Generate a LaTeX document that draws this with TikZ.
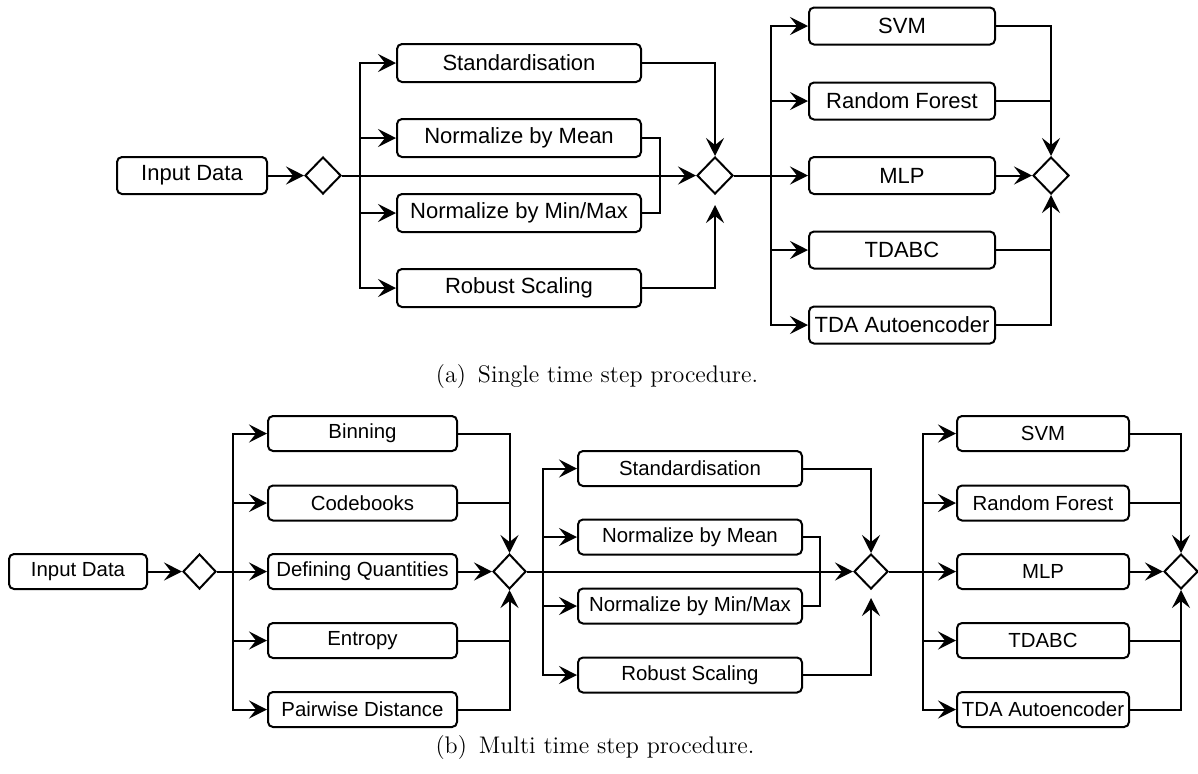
\documentclass[tikz,border=0pt]{standalone}
\usepackage{fontspec}
\newfontfamily\boxfont{Liberation Sans}
\usepackage{tikz}
\usetikzlibrary{arrows.meta, shapes.geometric}

\tikzset{
  stage/.style={draw, rounded corners=2.5pt, inner sep=0pt},
  gate/.style={draw, diamond, inner sep=0pt, minimum width=18pt, minimum height=18.5pt},
  flow/.style={-{Stealth[length=9pt,width=9pt,inset=3.5pt]}},
  partA/.style={font=\boxfont\fontsize{11}{13}\selectfont},
  partB/.style={font=\boxfont\fontsize{10.2}{12}\selectfont},
}

\begin{document}
\begin{tikzpicture}[x=0.5pt, y=-0.5pt, line width=1pt]
  \useasboundingbox (0,0) rectangle (1198,773);

  % (a) single time step
  \node[stage, partA, minimum width=75pt, minimum height=18.5pt] (inA) at (192,175.5) {Input Data};
  \node[gate] (gA1) at (323,175.5) {};
  \coordinate (fA1) at (360,175.5);
  \node[stage, partA, minimum width=122pt, minimum height=19pt] (stdA) at (519,63) {Standardisation};
  \node[stage, partA, minimum width=122pt, minimum height=19pt] (meanA) at (519,138) {Normalize by Mean};
  \node[stage, partA, minimum width=122pt, minimum height=19pt] (mmA) at (519,213) {Normalize by Min/Max};
  \node[stage, partA, minimum width=122pt, minimum height=19pt] (robA) at (519,288) {Robust Scaling};
  \node[gate] (gA2) at (715,175.5) {};
  \coordinate (fA2) at (771,175.5);
  \node[stage, partA, minimum width=93pt, minimum height=18.5pt] (svmA) at (902,26) {SVM};
  \node[stage, partA, minimum width=93pt, minimum height=18.5pt] (rfA) at (902,101) {Random Forest};
  \node[stage, partA, minimum width=93pt, minimum height=18.5pt] (mlpA) at (902,175.5) {MLP};
  \node[stage, partA, minimum width=93pt, minimum height=18.5pt] (tdabcA) at (902,250) {TDABC};
  \node[stage, partA, minimum width=93pt, minimum height=18.5pt] (aeA) at (902,325) {TDA Autoencoder};
  \node[gate] (gA3) at (1051,175.5) {};

  \draw[flow] (inA) -- (gA1);
  \draw[flow] (gA1) -- (gA2);
  \draw[flow] (fA1) |- (stdA.west);
  \draw[flow] (fA1) |- (meanA.west);
  \draw[flow] (fA1) |- (mmA.west);
  \draw[flow] (fA1) |- (robA.west);
  \draw[flow] (stdA.east) -| (gA2.north);
  \draw (meanA.east) -- ++(18,0) |- (mmA.east);
  \draw[flow, shorten >=5pt] (robA.east) -| (gA2.south);
  \draw[flow] (gA2) -- (mlpA);
  \draw[flow] (fA2) |- (svmA.west);
  \draw[flow] (fA2) |- (rfA.west);
  \draw[flow] (fA2) |- (tdabcA.west);
  \draw[flow] (fA2) |- (aeA.west);
  \draw[flow] (svmA.east) -| (gA3.north);
  \draw (rfA.east) -- (rfA.east -| gA3.north);
  \draw (tdabcA.east) -- (tdabcA.east -| gA3.south);
  \draw[flow] (aeA.east) -| (gA3.south);
  \draw[flow] (mlpA) -- (gA3);

  \node[font=\fontsize{12}{14}\selectfont, anchor=base] (capA) at (597,382) {(a)\enspace Single time step procedure.};

  % (b) multi time step
  \node[stage, partB, minimum width=69pt, minimum height=17.5pt] (inB) at (78,571.5) {Input Data};
  \node[gate, minimum width=16.5pt, minimum height=17.5pt] (gB1) at (199.5,571.5) {};
  \coordinate (fB1) at (233,571.5);
  \node[stage, partB, minimum width=94.5pt, minimum height=17.5pt] (binB) at (362.5,433.5) {Binning};
  \node[stage, partB, minimum width=94.5pt, minimum height=17.5pt] (codeB) at (362.5,503) {Codebooks};
  \node[stage, partB, minimum width=94.5pt, minimum height=17.5pt] (defB) at (362.5,571.5) {Defining Quantities};
  \node[stage, partB, minimum width=94.5pt, minimum height=17.5pt] (entB) at (362.5,640.5) {Entropy};
  \node[stage, partB, minimum width=94.5pt, minimum height=17.5pt] (pairB) at (362.5,709.5) {Pairwise Distance};
  \node[gate, minimum width=16.5pt, minimum height=17.5pt] (gB2) at (509.5,571.5) {};
  \coordinate (fB2) at (543,571.5);
  \node[stage, partB, minimum width=112pt, minimum height=17.5pt] (stdB) at (690,468.5) {Standardisation};
  \node[stage, partB, minimum width=112pt, minimum height=17.5pt] (meanB) at (690,537) {Normalize by Mean};
  \node[stage, partB, minimum width=112pt, minimum height=17.5pt] (mmB) at (690,606) {Normalize by Min/Max};
  \node[stage, partB, minimum width=112pt, minimum height=17.5pt] (robB) at (690,675) {Robust Scaling};
  \node[gate, minimum width=17pt, minimum height=17.5pt] (gB3) at (871,571.5) {};
  \coordinate (fB3) at (923,571.5);
  \node[stage, partB, minimum width=86pt, minimum height=17.5pt] (svmB) at (1043,433.5) {SVM};
  \node[stage, partB, minimum width=86pt, minimum height=17.5pt] (rfB) at (1043,503) {Random Forest};
  \node[stage, partB, minimum width=86pt, minimum height=17.5pt] (mlpB) at (1043,571.5) {MLP};
  \node[stage, partB, minimum width=86pt, minimum height=17.5pt] (tdabcB) at (1043,640.5) {TDABC};
  \node[stage, partB, minimum width=86pt, minimum height=17.5pt] (aeB) at (1043,709.5) {TDA Autoencoder};
  \node[gate, minimum width=17pt, minimum height=17.5pt] (gB4) at (1181,571.5) {};

  \draw[flow] (inB) -- (gB1);
  \draw[flow] (gB1) -- (defB);
  \draw[flow] (fB1) |- (binB.west);
  \draw[flow] (fB1) |- (codeB.west);
  \draw[flow] (fB1) |- (entB.west);
  \draw[flow] (fB1) |- (pairB.west);
  \draw[flow] (binB.east) -| (gB2.north);
  \draw (codeB.east) -- (codeB.east -| gB2.north);
  \draw[flow] (defB) -- (gB2);
  \draw (entB.east) -- (entB.east -| gB2.south);
  \draw[flow] (pairB.east) -| (gB2.south);
  \draw[flow] (gB2) -- (gB3);
  \draw[flow] (fB2) |- (stdB.west);
  \draw[flow] (fB2) |- (meanB.west);
  \draw[flow] (fB2) |- (mmB.west);
  \draw[flow] (fB2) |- (robB.west);
  \draw[flow] (stdB.east) -| (gB3.north);
  \draw (meanB.east) -- ++(17,0) |- (mmB.east);
  \draw[flow, shorten >=4pt] (robB.east) -| (gB3.south);
  \draw[flow] (gB3) -- (mlpB);
  \draw[flow] (fB3) |- (svmB.west);
  \draw[flow] (fB3) |- (rfB.west);
  \draw[flow] (fB3) |- (tdabcB.west);
  \draw[flow] (fB3) |- (aeB.west);
  \draw[flow] (svmB.east) -| (gB4.north);
  \draw (rfB.east) -- (rfB.east -| gB4.north);
  \draw (tdabcB.east) -- (tdabcB.east -| gB4.south);
  \draw[flow] (aeB.east) -| (gB4.south);
  \draw[flow] (mlpB) -- (gB4);

  \node[font=\fontsize{12}{14}\selectfont, anchor=base] (capB) at (595,753) {(b)\enspace Multi time step procedure.};
\end{tikzpicture}
\end{document}
